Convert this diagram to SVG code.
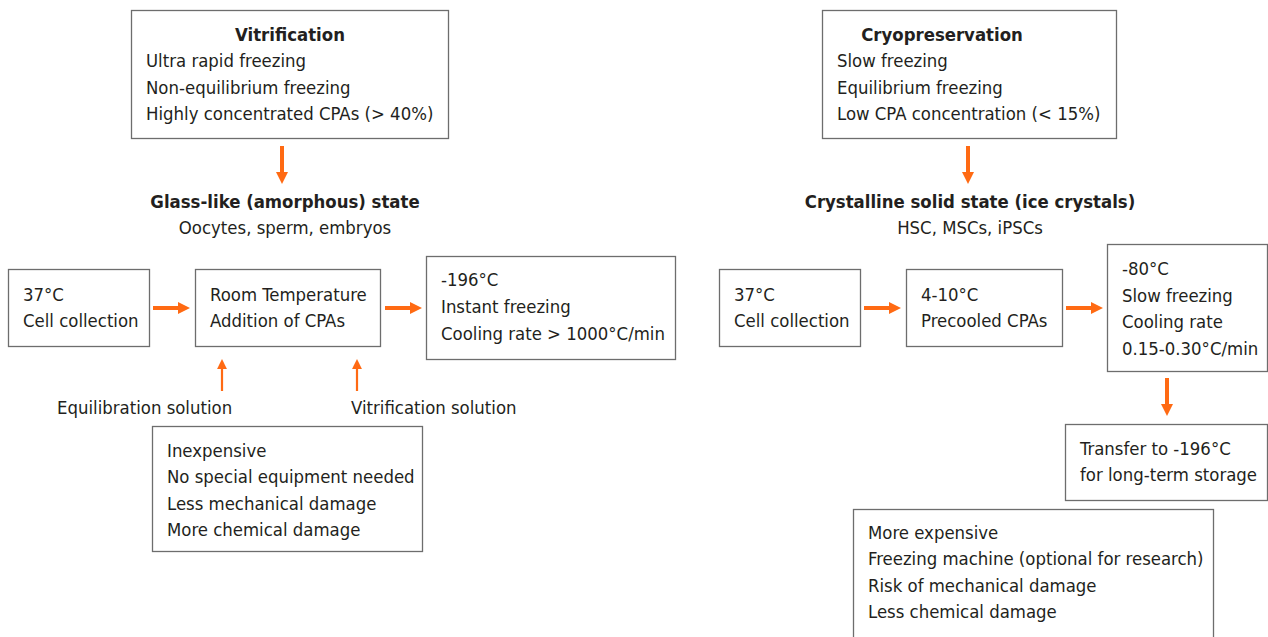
<svg xmlns="http://www.w3.org/2000/svg" width="1268" height="637" viewBox="0 0 1268 637">
  <style>
    .box { fill: #ffffff; stroke: #6d6d6d; stroke-width: 1.3; }
    text { font-family: "DejaVu Sans Condensed", "DejaVu Sans", sans-serif; font-stretch: condensed; font-size: 18.4px; fill: #231f20; }
    .b { font-weight: bold; }
    .c { text-anchor: middle; }
    .arr { stroke: #ff6a13; stroke-width: 4; fill: none; }
    .arr-thin { stroke: #ff6a13; stroke-width: 2.2; fill: none; }
  </style>
  <defs>
    <marker id="head" viewBox="0 0 10 10" refX="0" refY="5" markerWidth="3" markerHeight="3" orient="auto" markerUnits="strokeWidth">
      <path d="M0,0 L10,5 L0,10 Z" fill="#ff6a13"/>
    </marker>
    <marker id="head-thin" viewBox="0 0 10 10" refX="0" refY="5" markerWidth="4.5" markerHeight="4.5" orient="auto" markerUnits="strokeWidth">
      <path d="M0,0 L10,5 L0,10 Z" fill="#ff6a13"/>
    </marker>
  </defs>

  <rect width="1268" height="637" fill="#ffffff"/>

  <!-- Vitrification branch -->
  <g id="vitrification">
    <rect class="box" x="131.5" y="10.5" width="317" height="128"/>
    <text class="b c" x="290" y="41">Vitrification</text>
    <text x="146" y="67">Ultra rapid freezing</text>
    <text x="146" y="94">Non-equilibrium freezing</text>
    <text x="146" y="120">Highly concentrated CPAs (&gt; 40%)</text>
  </g>
  <g id="glass-state">
    <text class="b c" x="285" y="208">Glass-like (amorphous) state</text>
    <text class="c" x="285" y="234">Oocytes, sperm, embryos</text>
  </g>
  <g id="v-collection">
    <rect class="box" x="8.5" y="269.5" width="141" height="77"/>
    <text x="23" y="301">37°C</text>
    <text x="23" y="327">Cell collection</text>
  </g>
  <g id="v-room-temp">
    <rect class="box" x="195.5" y="269.5" width="185" height="77"/>
    <text x="210" y="301">Room Temperature</text>
    <text x="210" y="327">Addition of CPAs</text>
  </g>
  <g id="v-freeze">
    <rect class="box" x="426.5" y="256.5" width="249" height="103"/>
    <text x="441" y="286">-196°C</text>
    <text x="441" y="313">Instant freezing</text>
    <text x="441" y="340">Cooling rate &gt; 1000°C/min</text>
  </g>
  <g id="equilibration-solution">
    <text x="57" y="414">Equilibration solution</text>
  </g>
  <g id="vitrification-solution">
    <text x="351" y="414">Vitrification solution</text>
  </g>
  <g id="v-notes">
    <rect class="box" x="152.5" y="426.5" width="270" height="125"/>
    <text x="167" y="457">Inexpensive</text>
    <text x="167" y="483">No special equipment needed</text>
    <text x="167" y="510">Less mechanical damage</text>
    <text x="167" y="536">More chemical damage</text>
  </g>

  <!-- Cryopreservation branch -->
  <g id="cryopreservation">
    <rect class="box" x="822.5" y="10.5" width="294" height="128"/>
    <text class="b c" x="942" y="41">Cryopreservation</text>
    <text x="837" y="67">Slow freezing</text>
    <text x="837" y="94">Equilibrium freezing</text>
    <text x="837" y="120">Low CPA concentration (&lt; 15%)</text>
  </g>
  <g id="crystal-state">
    <text class="b c" x="970" y="208">Crystalline solid state (ice crystals)</text>
    <text class="c" x="970" y="234">HSC, MSCs, iPSCs</text>
  </g>
  <g id="c-collection">
    <rect class="box" x="719.5" y="269.5" width="141" height="77"/>
    <text x="734" y="301">37°C</text>
    <text x="734" y="327">Cell collection</text>
  </g>
  <g id="c-precool">
    <rect class="box" x="906.5" y="269.5" width="156" height="77"/>
    <text x="921" y="301">4-10°C</text>
    <text x="921" y="327">Precooled CPAs</text>
  </g>
  <g id="c-freeze">
    <rect class="box" x="1107.5" y="244.5" width="160" height="127"/>
    <text x="1122" y="275">-80°C</text>
    <text x="1122" y="302">Slow freezing</text>
    <text x="1122" y="328">Cooling rate</text>
    <text x="1122" y="355">0.15-0.30°C/min</text>
  </g>
  <g id="c-storage">
    <rect class="box" x="1065.5" y="424.5" width="202" height="76"/>
    <text x="1080" y="455">Transfer to -196°C</text>
    <text x="1080" y="481">for long-term storage</text>
  </g>
  <g id="c-notes">
    <rect class="box" x="853.5" y="509.5" width="360" height="140"/>
    <text x="868" y="539">More expensive</text>
    <text x="868" y="565">Freezing machine (optional for research)</text>
    <text x="868" y="592">Risk of mechanical damage</text>
    <text x="868" y="618">Less chemical damage</text>
  </g>

  <!-- Connectors -->
  <g id="connectors">
    <line class="arr" x1="282" y1="146" x2="282" y2="172" marker-end="url(#head)"/>
    <line class="arr" x1="153" y1="308" x2="178" y2="308" marker-end="url(#head)"/>
    <line class="arr" x1="385" y1="308" x2="410" y2="308" marker-end="url(#head)"/>
    <line class="arr-thin" x1="222" y1="391" x2="222" y2="369" marker-end="url(#head-thin)"/>
    <line class="arr-thin" x1="357" y1="391" x2="357" y2="369" marker-end="url(#head-thin)"/>

    <line class="arr" x1="968" y1="146" x2="968" y2="172" marker-end="url(#head)"/>
    <line class="arr" x1="864" y1="308" x2="889" y2="308" marker-end="url(#head)"/>
    <line class="arr" x1="1066" y1="308" x2="1091" y2="308" marker-end="url(#head)"/>
    <line class="arr" x1="1167" y1="378" x2="1167" y2="404" marker-end="url(#head)"/>
  </g>
</svg>
